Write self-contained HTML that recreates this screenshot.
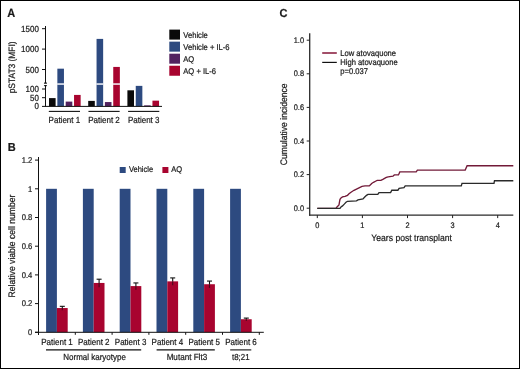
<!DOCTYPE html>
<html><head><meta charset="utf-8"><style>
html,body{margin:0;padding:0;background:#fff;}
svg{display:block;will-change:transform;font-family:"Liberation Sans",sans-serif;fill:#111;}
svg text{text-rendering:geometricPrecision;fill:#1a1a1a;stroke:#1a1a1a;stroke-width:0.22px;}
</style></head><body>
<svg width="520" height="369" viewBox="0 0 520 369">
<rect x="0.5" y="0.5" width="519" height="368" fill="none" stroke="#000" stroke-width="1"/>
<text x="7.30" y="17.10" font-size="11.88" text-anchor="start" font-weight="bold" textLength="7.94" lengthAdjust="spacingAndGlyphs" >A</text>
<line x1="45.5" y1="26" x2="45.5" y2="83.0" stroke="#111" stroke-width="1"/>
<line x1="45.5" y1="85.6" x2="45.5" y2="106.9" stroke="#111" stroke-width="1"/>
<polygon points="44.9,81.9 46.1,81.9 47.1,83.7 43.8,83.7" fill="#111"/>
<polygon points="43.8,85.0 47.1,85.0 46.1,86.5 44.9,86.5" fill="#111"/>
<line x1="42" y1="28.700000000000003" x2="45.5" y2="28.700000000000003" stroke="#111" stroke-width="1"/>
<text x="38.90" y="31.70" font-size="8.80" text-anchor="end" font-weight="normal" textLength="17.80" lengthAdjust="spacingAndGlyphs" >1500</text>
<line x1="42" y1="49.1" x2="45.5" y2="49.1" stroke="#111" stroke-width="1"/>
<text x="38.90" y="52.10" font-size="8.80" text-anchor="end" font-weight="normal" textLength="17.80" lengthAdjust="spacingAndGlyphs" >1000</text>
<line x1="42" y1="69.5" x2="45.5" y2="69.5" stroke="#111" stroke-width="1"/>
<text x="38.90" y="72.50" font-size="8.80" text-anchor="end" font-weight="normal" textLength="13.35" lengthAdjust="spacingAndGlyphs" >500</text>
<line x1="42" y1="89.0" x2="45.5" y2="89.0" stroke="#111" stroke-width="1"/>
<text x="38.90" y="92.00" font-size="8.80" text-anchor="end" font-weight="normal" textLength="13.35" lengthAdjust="spacingAndGlyphs" >100</text>
<line x1="42" y1="97.7" x2="45.5" y2="97.7" stroke="#111" stroke-width="1"/>
<text x="38.90" y="100.70" font-size="8.80" text-anchor="end" font-weight="normal" textLength="8.90" lengthAdjust="spacingAndGlyphs" >50</text>
<line x1="42" y1="106.4" x2="45.5" y2="106.4" stroke="#111" stroke-width="1"/>
<text x="38.90" y="109.40" font-size="8.80" text-anchor="end" font-weight="normal" textLength="4.45" lengthAdjust="spacingAndGlyphs" >0</text>
<rect x="49.00" y="98.10" width="6.60" height="8.30" fill="#0a0a0a"/>
<rect x="57.35" y="68.68" width="6.60" height="37.72" fill="#2d4a80"/>
<rect x="57.15" y="83.30" width="7.00" height="1.50" fill="#f4f6fb"/>
<rect x="65.70" y="101.60" width="6.60" height="4.80" fill="#52225f"/>
<rect x="74.05" y="94.92" width="6.60" height="11.48" fill="#a8042f"/>
<rect x="88.20" y="100.90" width="6.60" height="5.50" fill="#0a0a0a"/>
<rect x="96.55" y="38.90" width="6.60" height="67.50" fill="#2d4a80"/>
<rect x="96.35" y="83.30" width="7.00" height="1.50" fill="#f4f6fb"/>
<rect x="104.90" y="102.05" width="6.60" height="4.35" fill="#52225f"/>
<rect x="113.25" y="66.93" width="6.60" height="39.47" fill="#a8042f"/>
<rect x="113.05" y="83.30" width="7.00" height="1.50" fill="#f4f6fb"/>
<rect x="127.40" y="90.31" width="6.60" height="16.09" fill="#0a0a0a"/>
<rect x="135.75" y="85.87" width="6.60" height="20.53" fill="#2d4a80"/>
<rect x="144.10" y="105.36" width="6.60" height="1.04" fill="#52225f"/>
<rect x="152.45" y="100.66" width="6.60" height="5.74" fill="#a8042f"/>
<line x1="45.5" y1="106.4" x2="162" y2="106.4" stroke="#111" stroke-width="1"/>
<line x1="48.8" y1="111.4" x2="80.0" y2="111.4" stroke="#111" stroke-width="1.1"/>
<text x="64.40" y="122.90" font-size="8.80" text-anchor="middle" font-weight="normal" textLength="31.58" lengthAdjust="spacingAndGlyphs" >Patient 1</text>
<line x1="88.45" y1="111.4" x2="119.65" y2="111.4" stroke="#111" stroke-width="1.1"/>
<text x="104.05" y="122.90" font-size="8.80" text-anchor="middle" font-weight="normal" textLength="31.58" lengthAdjust="spacingAndGlyphs" >Patient 2</text>
<line x1="128.10000000000002" y1="111.4" x2="159.3" y2="111.4" stroke="#111" stroke-width="1.1"/>
<text x="143.70" y="122.90" font-size="8.80" text-anchor="middle" font-weight="normal" textLength="31.58" lengthAdjust="spacingAndGlyphs" >Patient 3</text>
<text x="0.00" y="0.00" font-size="9.24" text-anchor="middle" font-weight="normal" textLength="51.95" lengthAdjust="spacingAndGlyphs" transform="translate(14.9,67.4) rotate(-90)">pSTAT3 (MFI)</text>
<rect x="169.30" y="29.60" width="10.70" height="10.00" fill="#0a0a0a"/>
<text x="183.30" y="38.10" font-size="8.36" text-anchor="start" font-weight="normal" textLength="24.51" lengthAdjust="spacingAndGlyphs" >Vehicle</text>
<rect x="169.30" y="41.65" width="10.70" height="10.00" fill="#2d4a80"/>
<text x="183.30" y="50.15" font-size="8.36" text-anchor="start" font-weight="normal" textLength="46.26" lengthAdjust="spacingAndGlyphs" >Vehicle + IL-6</text>
<rect x="169.30" y="53.70" width="10.70" height="10.00" fill="#52225f"/>
<text x="183.30" y="62.20" font-size="8.36" text-anchor="start" font-weight="normal" textLength="10.98" lengthAdjust="spacingAndGlyphs" >AQ</text>
<rect x="169.30" y="65.75" width="10.70" height="10.00" fill="#a8042f"/>
<text x="183.30" y="74.25" font-size="8.36" text-anchor="start" font-weight="normal" textLength="32.74" lengthAdjust="spacingAndGlyphs" >AQ + IL-6</text>
<text x="7.80" y="150.90" font-size="11.55" text-anchor="start" font-weight="bold" textLength="7.94" lengthAdjust="spacingAndGlyphs" >B</text>
<line x1="38.5" y1="157" x2="38.5" y2="335" stroke="#111" stroke-width="1"/>
<line x1="35" y1="160.10000000000002" x2="38.5" y2="160.10000000000002" stroke="#111" stroke-width="1"/>
<text x="32.30" y="162.80" font-size="8.36" text-anchor="end" font-weight="normal" textLength="10.57" lengthAdjust="spacingAndGlyphs" >1.2</text>
<line x1="35" y1="188.8" x2="38.5" y2="188.8" stroke="#111" stroke-width="1"/>
<text x="32.30" y="191.50" font-size="8.36" text-anchor="end" font-weight="normal" textLength="4.23" lengthAdjust="spacingAndGlyphs" >1</text>
<line x1="35" y1="217.5" x2="38.5" y2="217.5" stroke="#111" stroke-width="1"/>
<text x="32.30" y="220.20" font-size="8.36" text-anchor="end" font-weight="normal" textLength="10.57" lengthAdjust="spacingAndGlyphs" >0.8</text>
<line x1="35" y1="246.20000000000002" x2="38.5" y2="246.20000000000002" stroke="#111" stroke-width="1"/>
<text x="32.30" y="248.90" font-size="8.36" text-anchor="end" font-weight="normal" textLength="10.57" lengthAdjust="spacingAndGlyphs" >0.6</text>
<line x1="35" y1="274.9" x2="38.5" y2="274.9" stroke="#111" stroke-width="1"/>
<text x="32.30" y="277.60" font-size="8.36" text-anchor="end" font-weight="normal" textLength="10.57" lengthAdjust="spacingAndGlyphs" >0.4</text>
<line x1="35" y1="303.6" x2="38.5" y2="303.6" stroke="#111" stroke-width="1"/>
<text x="32.30" y="306.30" font-size="8.36" text-anchor="end" font-weight="normal" textLength="10.57" lengthAdjust="spacingAndGlyphs" >0.2</text>
<line x1="35" y1="332.3" x2="38.5" y2="332.3" stroke="#111" stroke-width="1"/>
<text x="32.30" y="335.00" font-size="8.36" text-anchor="end" font-weight="normal" textLength="4.23" lengthAdjust="spacingAndGlyphs" >0</text>
<rect x="46.10" y="188.80" width="10.80" height="143.50" fill="#2d4a80"/>
<rect x="56.90" y="308.05" width="10.80" height="24.25" fill="#a8042f"/>
<line x1="62.300000000000004" y1="306.3265" x2="62.300000000000004" y2="308.0485" stroke="#111" stroke-width="1.1"/>
<line x1="62.300000000000004" y1="308.0485" x2="62.300000000000004" y2="310.2705" stroke="#4a0a1c" stroke-width="1.1"/>
<line x1="59.800000000000004" y1="306.3265" x2="64.80000000000001" y2="306.3265" stroke="#111" stroke-width="1.1"/>
<line x1="75.3" y1="332.3" x2="75.3" y2="334.8" stroke="#111" stroke-width="1"/>
<rect x="82.90" y="188.80" width="10.80" height="143.50" fill="#2d4a80"/>
<rect x="93.70" y="282.94" width="10.80" height="49.36" fill="#a8042f"/>
<line x1="99.1" y1="279.20500000000004" x2="99.1" y2="282.93600000000004" stroke="#111" stroke-width="1.1"/>
<line x1="99.1" y1="282.93600000000004" x2="99.1" y2="287.16700000000003" stroke="#4a0a1c" stroke-width="1.1"/>
<line x1="96.6" y1="279.20500000000004" x2="101.6" y2="279.20500000000004" stroke="#111" stroke-width="1.1"/>
<line x1="112.1" y1="332.3" x2="112.1" y2="334.8" stroke="#111" stroke-width="1"/>
<rect x="119.70" y="188.80" width="10.80" height="143.50" fill="#2d4a80"/>
<rect x="130.50" y="286.09" width="10.80" height="46.21" fill="#a8042f"/>
<line x1="135.9" y1="282.93600000000004" x2="135.9" y2="286.093" stroke="#111" stroke-width="1.1"/>
<line x1="135.9" y1="286.093" x2="135.9" y2="289.75" stroke="#4a0a1c" stroke-width="1.1"/>
<line x1="133.4" y1="282.93600000000004" x2="138.4" y2="282.93600000000004" stroke="#111" stroke-width="1.1"/>
<line x1="148.89999999999998" y1="332.3" x2="148.89999999999998" y2="334.8" stroke="#111" stroke-width="1"/>
<rect x="156.50" y="188.80" width="10.80" height="143.50" fill="#2d4a80"/>
<rect x="167.30" y="281.36" width="10.80" height="50.94" fill="#a8042f"/>
<line x1="172.7" y1="277.9135" x2="172.7" y2="281.3575" stroke="#111" stroke-width="1.1"/>
<line x1="172.7" y1="281.3575" x2="172.7" y2="285.30150000000003" stroke="#4a0a1c" stroke-width="1.1"/>
<line x1="170.2" y1="277.9135" x2="175.2" y2="277.9135" stroke="#111" stroke-width="1.1"/>
<line x1="185.7" y1="332.3" x2="185.7" y2="334.8" stroke="#111" stroke-width="1"/>
<rect x="193.30" y="188.80" width="10.80" height="143.50" fill="#2d4a80"/>
<rect x="204.10" y="284.23" width="10.80" height="48.07" fill="#a8042f"/>
<line x1="209.5" y1="281.0705" x2="209.5" y2="284.2275" stroke="#111" stroke-width="1.1"/>
<line x1="209.5" y1="284.2275" x2="209.5" y2="287.8845" stroke="#4a0a1c" stroke-width="1.1"/>
<line x1="207.0" y1="281.0705" x2="212.0" y2="281.0705" stroke="#111" stroke-width="1.1"/>
<line x1="222.5" y1="332.3" x2="222.5" y2="334.8" stroke="#111" stroke-width="1"/>
<rect x="230.10" y="188.80" width="10.80" height="143.50" fill="#2d4a80"/>
<rect x="240.90" y="319.24" width="10.80" height="13.06" fill="#a8042f"/>
<line x1="246.3" y1="318.0935" x2="246.3" y2="319.24150000000003" stroke="#111" stroke-width="1.1"/>
<line x1="246.3" y1="319.24150000000003" x2="246.3" y2="320.8895" stroke="#4a0a1c" stroke-width="1.1"/>
<line x1="243.8" y1="318.0935" x2="248.8" y2="318.0935" stroke="#111" stroke-width="1.1"/>
<line x1="259.3" y1="332.3" x2="259.3" y2="334.8" stroke="#111" stroke-width="1"/>
<line x1="35" y1="332.3" x2="263.8" y2="332.3" stroke="#111" stroke-width="1"/>
<text x="57.00" y="345.00" font-size="8.80" text-anchor="middle" font-weight="normal" textLength="31.58" lengthAdjust="spacingAndGlyphs" >Patient 1</text>
<text x="93.80" y="345.00" font-size="8.80" text-anchor="middle" font-weight="normal" textLength="31.58" lengthAdjust="spacingAndGlyphs" >Patient 2</text>
<text x="130.60" y="345.00" font-size="8.80" text-anchor="middle" font-weight="normal" textLength="31.58" lengthAdjust="spacingAndGlyphs" >Patient 3</text>
<text x="167.40" y="345.00" font-size="8.80" text-anchor="middle" font-weight="normal" textLength="31.58" lengthAdjust="spacingAndGlyphs" >Patient 4</text>
<text x="204.20" y="345.00" font-size="8.80" text-anchor="middle" font-weight="normal" textLength="31.58" lengthAdjust="spacingAndGlyphs" >Patient 5</text>
<text x="241.00" y="345.00" font-size="8.80" text-anchor="middle" font-weight="normal" textLength="31.58" lengthAdjust="spacingAndGlyphs" >Patient 6</text>
<line x1="46" y1="349.9" x2="141.2" y2="349.9" stroke="#111" stroke-width="1.1"/>
<line x1="156.6" y1="349.9" x2="214.8" y2="349.9" stroke="#111" stroke-width="1.1"/>
<line x1="230.2" y1="349.9" x2="251.3" y2="349.9" stroke="#111" stroke-width="1.1"/>
<text x="94.60" y="360.30" font-size="8.80" text-anchor="middle" font-weight="normal" textLength="62.69" lengthAdjust="spacingAndGlyphs" >Normal karyotype</text>
<text x="186.90" y="360.30" font-size="8.91" text-anchor="middle" font-weight="normal" textLength="40.52" lengthAdjust="spacingAndGlyphs" >Mutant Flt3</text>
<text x="240.80" y="360.30" font-size="8.69" text-anchor="middle" font-weight="normal" textLength="17.57" lengthAdjust="spacingAndGlyphs" >t8;21</text>
<rect x="119.70" y="167.00" width="6.00" height="6.00" fill="#2d4a80"/>
<text x="128.90" y="172.30" font-size="8.25" text-anchor="start" font-weight="normal" textLength="24.18" lengthAdjust="spacingAndGlyphs" >Vehicle</text>
<rect x="162.40" y="167.00" width="6.00" height="6.00" fill="#a8042f"/>
<text x="171.30" y="172.30" font-size="8.25" text-anchor="start" font-weight="normal" textLength="10.84" lengthAdjust="spacingAndGlyphs" >AQ</text>
<text x="0.00" y="0.00" font-size="9.46" text-anchor="middle" font-weight="normal" textLength="102.77" lengthAdjust="spacingAndGlyphs" transform="translate(14.7,246) rotate(-90)">Relative viable cell number</text>
<text x="279.50" y="17.10" font-size="11.55" text-anchor="start" font-weight="bold" textLength="7.94" lengthAdjust="spacingAndGlyphs" >C</text>
<line x1="309.7" y1="33.2" x2="309.7" y2="215.7" stroke="#2a2a2a" stroke-width="1.3"/>
<line x1="309.09999999999997" y1="215.1" x2="513.3" y2="215.1" stroke="#2a2a2a" stroke-width="1.3"/>
<line x1="306.7" y1="40.19999999999999" x2="309.7" y2="40.19999999999999" stroke="#222" stroke-width="1"/>
<text x="304.00" y="42.80" font-size="8.14" text-anchor="end" font-weight="normal" textLength="10.29" lengthAdjust="spacingAndGlyphs" >1.0</text>
<line x1="306.7" y1="73.79999999999998" x2="309.7" y2="73.79999999999998" stroke="#222" stroke-width="1"/>
<text x="304.00" y="76.40" font-size="8.14" text-anchor="end" font-weight="normal" textLength="10.29" lengthAdjust="spacingAndGlyphs" >0.8</text>
<line x1="306.7" y1="107.39999999999999" x2="309.7" y2="107.39999999999999" stroke="#222" stroke-width="1"/>
<text x="304.00" y="110.00" font-size="8.14" text-anchor="end" font-weight="normal" textLength="10.29" lengthAdjust="spacingAndGlyphs" >0.6</text>
<line x1="306.7" y1="141.0" x2="309.7" y2="141.0" stroke="#222" stroke-width="1"/>
<text x="304.00" y="143.60" font-size="8.14" text-anchor="end" font-weight="normal" textLength="10.29" lengthAdjust="spacingAndGlyphs" >0.4</text>
<line x1="306.7" y1="174.6" x2="309.7" y2="174.6" stroke="#222" stroke-width="1"/>
<text x="304.00" y="177.20" font-size="8.14" text-anchor="end" font-weight="normal" textLength="10.29" lengthAdjust="spacingAndGlyphs" >0.2</text>
<line x1="306.7" y1="208.2" x2="309.7" y2="208.2" stroke="#222" stroke-width="1"/>
<text x="304.00" y="210.80" font-size="8.14" text-anchor="end" font-weight="normal" textLength="10.29" lengthAdjust="spacingAndGlyphs" >0.0</text>
<line x1="317.3" y1="215.1" x2="317.3" y2="218.1" stroke="#222" stroke-width="1"/>
<text x="317.30" y="227.80" font-size="8.14" text-anchor="middle" font-weight="normal" textLength="4.12" lengthAdjust="spacingAndGlyphs" >0</text>
<line x1="362.40000000000003" y1="215.1" x2="362.40000000000003" y2="218.1" stroke="#222" stroke-width="1"/>
<text x="362.40" y="227.80" font-size="8.14" text-anchor="middle" font-weight="normal" textLength="4.12" lengthAdjust="spacingAndGlyphs" >1</text>
<line x1="407.5" y1="215.1" x2="407.5" y2="218.1" stroke="#222" stroke-width="1"/>
<text x="407.50" y="227.80" font-size="8.14" text-anchor="middle" font-weight="normal" textLength="4.12" lengthAdjust="spacingAndGlyphs" >2</text>
<line x1="452.6" y1="215.1" x2="452.6" y2="218.1" stroke="#222" stroke-width="1"/>
<text x="452.60" y="227.80" font-size="8.14" text-anchor="middle" font-weight="normal" textLength="4.12" lengthAdjust="spacingAndGlyphs" >3</text>
<line x1="497.70000000000005" y1="215.1" x2="497.70000000000005" y2="218.1" stroke="#222" stroke-width="1"/>
<text x="497.70" y="227.80" font-size="8.14" text-anchor="middle" font-weight="normal" textLength="4.12" lengthAdjust="spacingAndGlyphs" >4</text>
<text x="411.60" y="241.40" font-size="9.46" text-anchor="middle" font-weight="normal" textLength="80.48" lengthAdjust="spacingAndGlyphs" >Years post transplant</text>
<text x="0.00" y="0.00" font-size="9.46" text-anchor="middle" font-weight="normal" textLength="81.74" lengthAdjust="spacingAndGlyphs" transform="translate(287.2,124.3) rotate(-90)">Cumulative incidence</text>
<line x1="322.2" y1="53" x2="336.8" y2="53" stroke="#93304f" stroke-width="1.7"/>
<line x1="322.2" y1="62.4" x2="336.8" y2="62.4" stroke="#111" stroke-width="1.2"/>
<text x="340.30" y="55.60" font-size="8.36" text-anchor="start" font-weight="normal" textLength="55.78" lengthAdjust="spacingAndGlyphs" >Low atovaquone</text>
<text x="340.30" y="64.70" font-size="8.36" text-anchor="start" font-weight="normal" textLength="57.47" lengthAdjust="spacingAndGlyphs" >High atovaquone</text>
<text x="340.30" y="73.90" font-size="8.36" text-anchor="start" font-weight="normal" textLength="27.68" lengthAdjust="spacingAndGlyphs" >p=0.037</text>
<polyline points="317.3,208.4 336.0,208.4 337.0,206.9 339.0,204.9 339.5,201.9 340.0,199.3 341.0,197.9 342.5,196.9 345.0,196.3 347.5,195.3 349.0,193.8 351.0,192.3 354.0,190.3 356.0,189.3 359.0,187.8 362.0,186.3 365.0,185.9 369.3,185.9 370.5,184.7 371.7,183.5 373.5,182.3 376.0,181.0 377.2,180.4 380.9,180.4 383.3,179.2 386.3,177.4 388.2,176.8 393.0,176.2 394.3,174.9 398.5,174.9 399.8,171.9 416.2,171.9 417.4,170.1 465.2,170.1 467.1,165.7 513.3,165.7" fill="none" stroke="#721a38" stroke-width="1.35" stroke-linejoin="miter"/>
<polyline points="317.3,208.4 340.0,208.4 341.0,206.9 342.5,205.9 344.5,203.9 346.0,202.3 347.5,201.3 356.5,200.9 358.0,199.9 363.0,198.9 364.5,197.3 366.5,195.3 368.0,194.4 377.8,194.4 379.0,192.6 390.6,192.6 391.8,190.2 397.9,190.2 399.1,188.3 404.0,187.7 405.2,185.9 461.3,185.9 462.0,183.4 494.0,183.4 494.5,180.7 513.3,180.7" fill="none" stroke="#2a2a2a" stroke-width="1.35" stroke-linejoin="miter"/>
</svg>
</body></html>
